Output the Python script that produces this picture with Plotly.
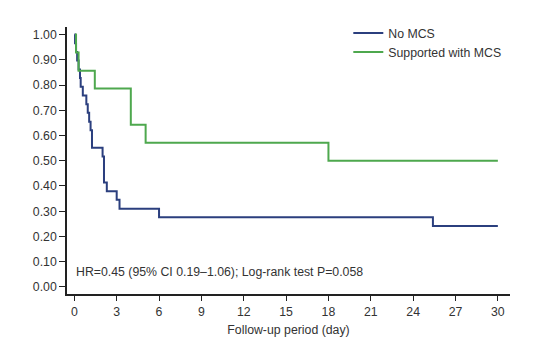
import plotly.graph_objects as go

# Kaplan-Meier step data (time in days, survival probability)
no_mcs_t = [0, 0.05, 0.12, 0.2, 0.3, 0.4, 0.45, 0.6, 0.85, 0.95, 1.05, 1.15, 1.25, 2.0, 2.1, 2.3, 3.0, 3.2, 6.0, 25.4, 30]
no_mcs_s = [1.0, 0.966, 0.931, 0.897, 0.862, 0.828, 0.793, 0.759, 0.724, 0.690, 0.655, 0.621, 0.552, 0.517, 0.414, 0.379, 0.345, 0.310, 0.276, 0.241, 0.241]

mcs_t = [0.05, 0.12, 0.3, 1.45, 4.0, 5.05, 18.0, 30]
mcs_s = [1.0, 0.929, 0.857, 0.786, 0.643, 0.571, 0.500, 0.500]

x_ticks = [0, 3, 6, 9, 12, 15, 18, 21, 24, 27, 30]
y_ticks = [0.0, 0.1, 0.2, 0.3, 0.4, 0.5, 0.6, 0.7, 0.8, 0.9, 1.0]

blue = "#2b3f7e"
green = "#4ea84e"
txt = "#333333"
font = "Liberation Sans"

fig = go.Figure()
fig.add_trace(go.Scatter(x=no_mcs_t, y=no_mcs_s, mode="lines", line=dict(shape="hv", color=blue, width=2), name="No MCS"))
fig.add_trace(go.Scatter(x=mcs_t, y=mcs_s, mode="lines", line=dict(shape="hv", color=green, width=2), name="Supported with MCS"))

fig.add_annotation(x=0.0, y=0.06, xref="x", yref="y", xanchor="left", yanchor="middle",
                   text="HR=0.45 (95% CI 0.19–1.06); Log-rank test P=0.058", showarrow=False,
                   font=dict(family=font, size=12.3, color=txt))

fig.update_layout(
    width=541, height=352,
    margin=dict(l=59, r=39, t=19, b=66, autoexpand=False),
    paper_bgcolor="white", plot_bgcolor="white",
    font=dict(family=font, size=12.3, color=txt),
    showlegend=True,
    legend=dict(x=0.635, y=1.032, xanchor="left", yanchor="top", itemwidth=30,
                font=dict(family=font, size=12.3, color=txt), bgcolor="rgba(0,0,0,0)", tracegroupgap=0),
    xaxis=dict(range=[-0.52, 30.86], tickvals=x_ticks, ticktext=[str(v) for v in x_ticks],
               showgrid=False, zeroline=False, showline=True, linecolor="#222", linewidth=1.5,
               ticks="outside", ticklen=5, tickcolor="#222", tickwidth=1.2, automargin=False,
               title=dict(text="Follow-up period (day)", standoff=8, font=dict(size=12.3))),
    yaxis=dict(range=[-0.028, 1.03], tickvals=y_ticks, ticktext=[f"{v:.2f}" for v in y_ticks],
               showgrid=False, zeroline=False, showline=True, linecolor="#222", linewidth=1.5,
               ticks="outside", ticklen=6, tickcolor="#222", tickwidth=1.2, automargin=False),
)

fig.write_html("out.html")
